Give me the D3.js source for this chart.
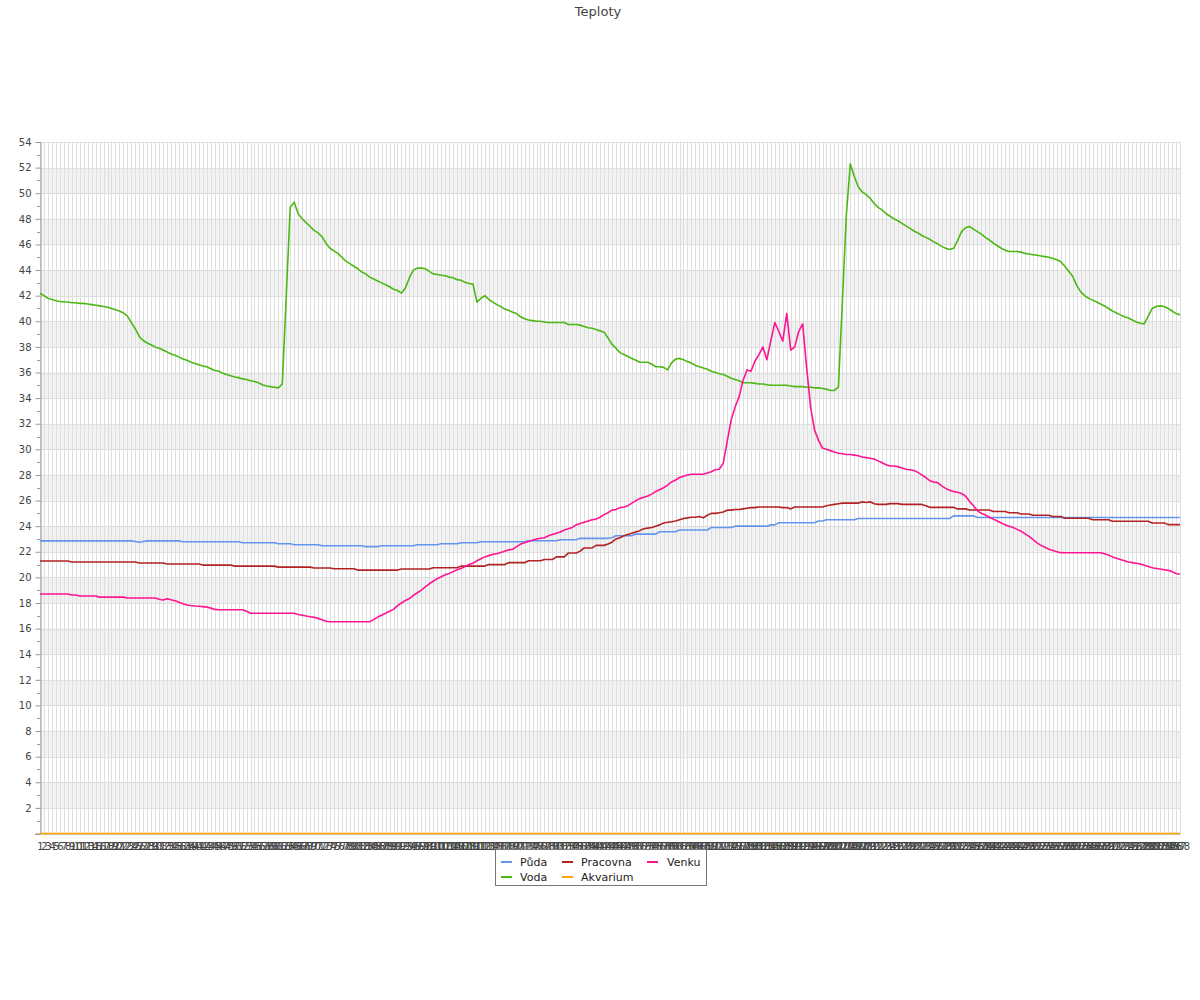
<!DOCTYPE html>
<html>
<head>
<meta charset="utf-8">
<script src="https://cdn.jsdelivr.net/npm/d3@7"></script>
<style>
html,body{margin:0;padding:0;background:#fff;}
svg{display:block;font-family:"DejaVu Sans",sans-serif;}
</style>
</head>
<body>
<svg id="chart" width="1200" height="1000"></svg>
<script>
// ---------- DATA ----------
const title = "Teploty";
const categories = d3.range(1, 289).map(String);
const yTicks = [2,4,6,8,10,12,14,16,18,20,22,24,26,28,30,32,34,36,38,40,42,44,46,48,50,52,54];
const seriesNames = ["Půda","Voda","Pracovna","Akvarium","Venku"];
const seriesColors = ["#6495ed","#4cb814","#b22222","#ffa500","#ff1493"];

const puda = [
22.85,22.85,22.85,22.85,22.85,22.85,22.85,22.85,22.85,22.85,22.85,22.85,
22.85,22.85,22.85,22.85,22.85,22.85,22.85,22.85,22.85,22.85,22.85,22.85,
22.8,22.75,22.8,22.85,22.85,22.85,22.85,22.85,22.85,22.85,22.85,22.85,
22.78,22.78,22.78,22.78,22.78,22.78,22.78,22.78,22.78,22.78,22.78,22.78,
22.78,22.78,22.78,22.7,22.7,22.7,22.7,22.7,22.7,22.7,22.7,22.7,
22.63,22.63,22.63,22.63,22.55,22.55,22.55,22.55,22.55,22.55,22.55,22.47,
22.47,22.47,22.47,22.47,22.47,22.47,22.47,22.47,22.47,22.47,22.4,22.4,
22.4,22.4,22.47,22.47,22.47,22.47,22.47,22.47,22.47,22.47,22.47,22.55,
22.55,22.55,22.55,22.55,22.55,22.63,22.63,22.63,22.63,22.63,22.7,22.7,
22.7,22.7,22.7,22.78,22.78,22.78,22.78,22.78,22.78,22.78,22.78,22.78,
22.78,22.78,22.78,22.86,22.86,22.86,22.86,22.86,22.86,22.86,22.86,22.94,
22.94,22.94,22.94,22.94,23.05,23.05,23.05,23.05,23.05,23.05,23.05,23.05,
23.1,23.25,23.25,23.25,23.25,23.25,23.38,23.38,23.38,23.38,23.38,23.38,
23.56,23.56,23.56,23.56,23.56,23.7,23.7,23.7,23.7,23.7,23.7,23.7,
23.7,23.9,23.9,23.9,23.9,23.9,23.9,24.0,24.0,24.0,24.0,24.0,
24.0,24.0,24.0,24.0,24.1,24.1,24.27,24.27,24.27,24.27,24.27,24.27,
24.27,24.27,24.27,24.27,24.4,24.4,24.5,24.5,24.5,24.5,24.5,24.5,
24.5,24.5,24.6,24.6,24.6,24.6,24.6,24.6,24.6,24.6,24.6,24.6,
24.6,24.6,24.6,24.6,24.6,24.6,24.6,24.6,24.6,24.6,24.6,24.6,
24.6,24.6,24.8,24.8,24.8,24.8,24.8,24.8,24.68,24.68,24.68,24.68,
24.68,24.68,24.68,24.68,24.68,24.68,24.68,24.68,24.68,24.68,24.68,24.68,
24.68,24.68,24.68,24.68,24.68,24.68,24.68,24.68,24.68,24.68,24.68,24.68,
24.68,24.68,24.68,24.68,24.68,24.68,24.68,24.68,24.68,24.68,24.68,24.68,
24.68,24.68,24.68,24.68,24.68,24.68,24.68,24.68,24.68,24.68,24.68,24.68
];

const voda = [
42.2,42.0,41.8,41.7,41.6,41.55,41.5,41.5,41.45,41.45,41.4,41.4,
41.35,41.3,41.25,41.2,41.15,41.1,41.0,40.9,40.8,40.65,40.4,39.9,
39.4,38.8,38.5,38.3,38.15,38.0,37.9,37.75,37.6,37.45,37.35,37.2,
37.05,36.95,36.8,36.7,36.6,36.5,36.45,36.3,36.15,36.1,35.95,35.85,
35.75,35.65,35.6,35.5,35.45,35.35,35.3,35.2,35.05,34.95,34.9,34.85,
34.8,35.1,42.0,48.9,49.3,48.4,48.0,47.7,47.4,47.1,46.9,46.6,
46.1,45.7,45.5,45.3,45.0,44.7,44.5,44.3,44.1,43.85,43.7,43.45,
43.3,43.15,43.0,42.85,42.7,42.5,42.4,42.2,42.6,43.4,44.0,44.15,
44.15,44.1,43.9,43.7,43.65,43.6,43.55,43.45,43.4,43.25,43.2,43.05,
42.95,42.9,41.5,41.8,42.0,41.7,41.5,41.3,41.15,40.95,40.85,40.7,
40.6,40.35,40.2,40.1,40.05,40.0,40.0,39.95,39.9,39.9,39.9,39.9,
39.9,39.75,39.75,39.75,39.7,39.6,39.5,39.45,39.35,39.25,39.15,38.7,
38.2,37.9,37.55,37.4,37.25,37.1,36.95,36.8,36.8,36.8,36.65,36.45,
36.45,36.4,36.2,36.75,37.05,37.1,37.0,36.85,36.75,36.55,36.45,36.35,
36.25,36.1,36.0,35.9,35.85,35.7,35.55,35.45,35.35,35.2,35.2,35.2,
35.15,35.1,35.1,35.05,35.0,35.0,35.0,35.0,35.0,34.95,34.9,34.9,
34.9,34.85,34.85,34.8,34.8,34.75,34.7,34.6,34.6,34.85,41.5,48.3,
52.3,51.3,50.5,50.1,49.9,49.6,49.2,48.9,48.7,48.4,48.2,48.0,
47.85,47.65,47.45,47.25,47.05,46.9,46.7,46.55,46.4,46.2,46.05,45.85,
45.7,45.6,45.7,46.3,47.0,47.3,47.4,47.2,47.0,46.8,46.55,46.35,
46.1,45.9,45.7,45.55,45.45,45.45,45.45,45.4,45.3,45.25,45.2,45.15,
45.1,45.05,45.0,44.9,44.8,44.65,44.3,43.9,43.5,42.8,42.3,42.0,
41.8,41.65,41.5,41.35,41.2,41.0,40.8,40.65,40.5,40.35,40.25,40.1,
39.95,39.85,39.8,40.4,41.0,41.15,41.2,41.15,41.0,40.8,40.6,40.5
];

const pracovna = [
21.28,21.28,21.28,21.28,21.28,21.28,21.28,21.28,21.2,21.2,21.2,21.2,
21.2,21.2,21.2,21.2,21.2,21.2,21.2,21.2,21.2,21.2,21.2,21.2,
21.2,21.12,21.12,21.12,21.12,21.12,21.12,21.12,21.04,21.04,21.04,21.04,
21.04,21.04,21.04,21.04,21.04,20.96,20.96,20.96,20.96,20.96,20.96,20.96,
20.96,20.88,20.88,20.88,20.88,20.88,20.88,20.88,20.88,20.88,20.88,20.88,
20.8,20.8,20.8,20.8,20.8,20.8,20.8,20.8,20.8,20.73,20.73,20.73,
20.73,20.73,20.68,20.68,20.68,20.68,20.68,20.68,20.57,20.57,20.57,20.57,
20.57,20.57,20.57,20.57,20.57,20.57,20.57,20.65,20.65,20.65,20.65,20.65,
20.65,20.65,20.65,20.75,20.75,20.75,20.75,20.75,20.75,20.75,20.88,20.88,
20.88,20.88,20.88,20.88,20.88,21.0,21.0,21.0,21.0,21.0,21.15,21.15,
21.15,21.15,21.15,21.3,21.3,21.3,21.3,21.4,21.4,21.4,21.6,21.6,
21.6,21.9,21.9,21.9,22.05,22.3,22.3,22.3,22.5,22.5,22.5,22.6,
22.75,23.0,23.1,23.25,23.35,23.45,23.55,23.65,23.8,23.85,23.9,24.0,
24.1,24.25,24.3,24.35,24.4,24.5,24.6,24.65,24.7,24.7,24.75,24.65,
24.85,25.0,25.0,25.05,25.1,25.25,25.25,25.3,25.3,25.35,25.4,25.45,
25.45,25.5,25.5,25.5,25.5,25.5,25.5,25.45,25.45,25.35,25.5,25.5,
25.5,25.5,25.5,25.5,25.5,25.5,25.6,25.65,25.7,25.75,25.8,25.8,
25.8,25.8,25.8,25.9,25.85,25.9,25.75,25.7,25.7,25.7,25.76,25.76,
25.76,25.7,25.7,25.7,25.7,25.7,25.7,25.6,25.47,25.47,25.47,25.47,
25.47,25.47,25.47,25.35,25.35,25.35,25.26,25.26,25.26,25.26,25.26,25.26,
25.15,25.15,25.15,25.15,25.05,25.05,25.05,24.95,24.95,24.95,24.85,24.85,
24.85,24.85,24.85,24.75,24.75,24.75,24.62,24.62,24.62,24.62,24.62,24.62,
24.62,24.5,24.5,24.5,24.5,24.5,24.38,24.38,24.38,24.38,24.38,24.38,
24.38,24.38,24.38,24.38,24.25,24.25,24.25,24.25,24.12,24.12,24.12,24.12
];

const akvarium = [
0,0,0,0,0,0,0,0,0,0,0,0,0,0,0,0,0,0,0,0,0,0,0,0,
0,0,0,0,0,0,0,0,0,0,0,0,0,0,0,0,0,0,0,0,0,0,0,0,
0,0,0,0,0,0,0,0,0,0,0,0,0,0,0,0,0,0,0,0,0,0,0,0,
0,0,0,0,0,0,0,0,0,0,0,0,0,0,0,0,0,0,0,0,0,0,0,0,
0,0,0,0,0,0,0,0,0,0,0,0,0,0,0,0,0,0,0,0,0,0,0,0,
0,0,0,0,0,0,0,0,0,0,0,0,0,0,0,0,0,0,0,0,0,0,0,0,
0,0,0,0,0,0,0,0,0,0,0,0,0,0,0,0,0,0,0,0,0,0,0,0,
0,0,0,0,0,0,0,0,0,0,0,0,0,0,0,0,0,0,0,0,0,0,0,0,
0,0,0,0,0,0,0,0,0,0,0,0,0,0,0,0,0,0,0,0,0,0,0,0,
0,0,0,0,0,0,0,0,0,0,0,0,0,0,0,0,0,0,0,0,0,0,0,0,
0,0,0,0,0,0,0,0,0,0,0,0,0,0,0,0,0,0,0,0,0,0,0,0,
0,0,0,0,0,0,0,0,0,0,0,0,0,0,0,0,0,0,0,0,0,0,0,0
];

const venku = [
18.7,18.7,18.7,18.7,18.7,18.7,18.7,18.7,18.62,18.62,18.55,18.55,
18.55,18.55,18.55,18.46,18.46,18.46,18.46,18.46,18.46,18.46,18.39,18.39,
18.39,18.39,18.39,18.39,18.39,18.39,18.3,18.23,18.33,18.25,18.18,18.05,
17.95,17.85,17.8,17.77,17.75,17.72,17.68,17.6,17.5,17.47,17.47,17.47,
17.47,17.47,17.47,17.47,17.35,17.2,17.2,17.2,17.2,17.2,17.2,17.2,
17.2,17.2,17.2,17.2,17.2,17.1,17.05,16.98,16.92,16.88,16.8,16.7,
16.58,16.54,16.54,16.54,16.54,16.54,16.54,16.54,16.54,16.54,16.54,16.54,
16.7,16.9,17.05,17.2,17.35,17.5,17.8,18.0,18.2,18.35,18.6,18.8,
19.0,19.25,19.5,19.7,19.9,20.05,20.2,20.3,20.45,20.6,20.7,20.85,
21.0,21.1,21.3,21.45,21.6,21.7,21.8,21.85,21.95,22.05,22.15,22.2,
22.4,22.6,22.7,22.8,22.9,23.0,23.05,23.1,23.25,23.35,23.45,23.55,
23.7,23.8,23.9,24.1,24.2,24.3,24.4,24.5,24.55,24.7,24.9,25.05,
25.25,25.3,25.45,25.5,25.6,25.8,26.0,26.15,26.25,26.35,26.5,26.7,
26.85,27.0,27.2,27.45,27.6,27.8,27.9,28.0,28.05,28.05,28.05,28.05,
28.15,28.25,28.4,28.45,28.9,30.6,32.3,33.3,34.1,35.4,36.2,36.1,
36.9,37.4,38.0,37.0,38.5,39.9,39.2,38.45,40.6,37.75,38.0,39.2,
39.8,36.4,33.3,31.5,30.7,30.1,30.0,29.9,29.8,29.7,29.65,29.6,
29.6,29.55,29.5,29.4,29.35,29.3,29.25,29.1,28.95,28.8,28.7,28.7,
28.65,28.55,28.45,28.4,28.35,28.2,28.0,27.8,27.55,27.45,27.4,27.15,
26.95,26.8,26.7,26.65,26.55,26.35,25.95,25.6,25.2,25.0,24.87,24.7,
24.55,24.4,24.25,24.1,24.0,23.9,23.75,23.6,23.4,23.2,22.95,22.7,
22.5,22.35,22.2,22.1,22.0,21.93,21.92,21.92,21.92,21.92,21.92,21.92,
21.92,21.92,21.92,21.92,21.85,21.75,21.6,21.5,21.4,21.3,21.2,21.15,
21.1,21.05,20.95,20.85,20.75,20.7,20.65,20.6,20.55,20.45,20.3,20.25
];

const seriesValues = [puda, voda, pracovna, akvarium, venku];

// ---------- LAYOUT ----------
const svg = d3.select("#chart");
const L = 40, R = 1180, T = 142, B = 833.5;
const x = d3.scalePoint().domain(categories).range([L, R]);
const y = d3.scaleLinear().domain([0, 54]).range([B, T]);
const crisp = v => Math.round(v) + 0.5;

// title
svg.append("text").attr("x", 598).attr("y", 16).attr("text-anchor", "middle")
  .attr("font-size", 13).attr("fill", "#444").text(title);

// alternating bands
const bandStarts = yTicks.filter(v => v < 54 && Math.floor(v / 2) % 2 === 1);
svg.append("g").selectAll("rect").data(bandStarts).join("rect")
  .attr("x", L).attr("width", R - L)
  .attr("y", d => y(d + 2)).attr("height", d => y(d) - y(d + 2))
  .attr("fill", "#f2f2f2");

// vertical grid
svg.append("g").selectAll("line").data(categories).join("line")
  .attr("x1", d => crisp(x(d))).attr("x2", d => crisp(x(d)))
  .attr("y1", T).attr("y2", B)
  .attr("stroke", "#dedede").attr("stroke-width", 1);

// horizontal grid
svg.append("g").selectAll("line").data(yTicks).join("line")
  .attr("x1", L).attr("x2", R)
  .attr("y1", d => crisp(y(d))).attr("y2", d => crisp(y(d)))
  .attr("stroke", "#dedede").attr("stroke-width", 1);

// y axis
const yAxis = d3.axisLeft(y).tickValues(yTicks).tickSize(5).tickPadding(4).tickFormat(d3.format("d"));
const gy = svg.append("g").attr("transform", `translate(${L + 0.5},0)`).call(yAxis);
gy.select(".domain").attr("stroke", "#999");
gy.selectAll(".tick line").attr("stroke", "#999");
gy.selectAll(".tick text").attr("font-size", 10).attr("fill", "#444").attr("font-family", "DejaVu Sans");
// minor ticks
const minor = d3.range(0, 55).filter(v => v % 2 === 1);
svg.append("g").selectAll("line").data(minor).join("line")
  .attr("x1", L - 3).attr("x2", L)
  .attr("y1", d => crisp(y(d))).attr("y2", d => crisp(y(d)))
  .attr("stroke", "#999");
svg.append("line").attr("x1", L - 5).attr("x2", L).attr("y1", crisp(y(0))).attr("y2", crisp(y(0))).attr("stroke", "#999");

// x axis
const xAxis = d3.axisBottom(x).tickSize(0).tickPadding(9);
const gx = svg.append("g").attr("transform", `translate(0,${Math.round(B) - 0.5})`).call(xAxis);
gx.select(".domain").attr("stroke", "#999");
gx.selectAll(".tick text").attr("font-size", 10).attr("fill", "#444").attr("font-family", "DejaVu Sans");

// lines
const line = d3.line().x((d, i) => x(categories[i])).y(d => y(d));
const drawOrder = [0, 1, 2, 4, 3];
svg.append("g").selectAll("path").data(drawOrder).join("path")
  .attr("d", k => line(seriesValues[k]))
  .attr("fill", "none")
  .attr("stroke", k => seriesColors[k])
  .attr("stroke-width", 1.6)
  .attr("stroke-linejoin", "round");

// legend
const lg = svg.append("g");
lg.append("rect").attr("x", 495.5).attr("y", 849.5).attr("width", 211).attr("height", 36)
  .attr("fill", "#fff").attr("stroke", "#777");
const legPos = [
  {sx: 501, tx: 520, y: 862},
  {sx: 501, tx: 520, y: 877},
  {sx: 562, tx: 581, y: 862},
  {sx: 562, tx: 581, y: 877},
  {sx: 647, tx: 667, y: 862}
];
seriesNames.forEach((n, k) => {
  const p = legPos[k];
  lg.append("line").attr("x1", p.sx).attr("x2", p.sx + 11).attr("y1", p.y).attr("y2", p.y)
    .attr("stroke", seriesColors[k]).attr("stroke-width", 2);
  lg.append("text").attr("x", p.tx).attr("y", p.y + 4).attr("font-size", 11)
    .attr("fill", "#222").text(n);
});
</script>
</body>
</html>
